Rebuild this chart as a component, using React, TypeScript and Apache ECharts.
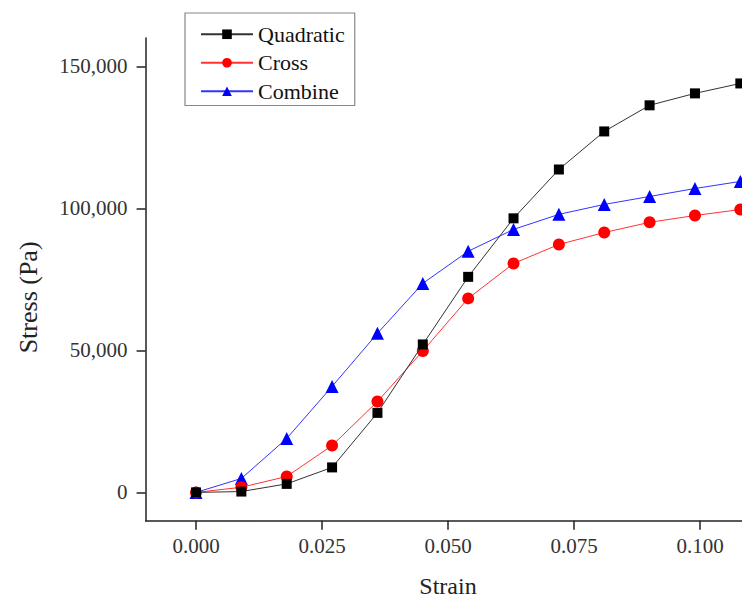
import React, { useEffect, useRef } from "react";
import * as echarts from "echarts";

const strain = [0, 0.009, 0.018, 0.027, 0.036, 0.045, 0.054, 0.063, 0.072, 0.081, 0.09, 0.099, 0.108];
const quadratic = [0, 300, 3000, 8800, 28000, 52100, 75900, 96500, 113700, 127100, 136300, 140500, 144000];
const cross = [0, 1800, 5600, 16500, 32000, 49800, 68300, 80600, 87300, 91500, 95100, 97500, 99600];
const combine = [0, 4900, 19000, 37300, 56000, 73600, 84900, 92600, 97900, 101400, 104200, 107000, 109500];
const xTicks = [0, 0.025, 0.05, 0.075, 0.1];
const yTicks = [0, 50000, 100000, 150000];
const seriesNames = ["Quadratic", "Cross", "Combine"];

const FONT = "'Liberation Serif', 'Times New Roman', serif";

export default function App() {
  const ref = useRef<HTMLDivElement>(null);
  useEffect(() => {
    if (!ref.current) return;
    const chart = echarts.init(ref.current, null, { renderer: "svg" });
    const pair = (vals: number[]) => strain.map((s, i) => [s, vals[i]]);
    const axisCommon = {
      axisLine: { show: true, onZero: false, lineStyle: { color: "#222", width: 1.5 } },
      axisTick: { show: true, inside: false, length: 9, lineStyle: { color: "#222", width: 1.5 } },
      splitLine: { show: false },
    };
    chart.setOption({
      animation: false,
      backgroundColor: "#fff",
      textStyle: { fontFamily: FONT },
      legend: {
        left: 185,
        top: 13,
        orient: "vertical",
        data: seriesNames,
        itemWidth: 52,
        itemHeight: 12,
        itemGap: 0,
        padding: [7, 10, 0, 15],
        borderColor: "#888",
        borderWidth: 1.2,
        textStyle: { fontFamily: FONT, fontSize: 22, color: "#111", lineHeight: 28.5 },
      },
      grid: { left: 145.6, top: 38, width: 604.8, height: 482.8, outerBoundsMode: "none", containLabel: false },
      xAxis: {
        type: "value",
        min: -0.01,
        max: 0.11,
        ...axisCommon,
        axisTick: { ...axisCommon.axisTick, customValues: xTicks },
        axisLabel: {
          customValues: xTicks,
          fontFamily: FONT,
          fontSize: 21,
          color: "#333",
          margin: 15,
          formatter: (v: number) => v.toFixed(3),
        },
        name: "Strain",
        nameLocation: "middle",
        nameGap: 53,
        nameTextStyle: { fontFamily: FONT, fontSize: 24, color: "#222", lineHeight: 24 },
      },
      yAxis: {
        type: "value",
        min: -10000,
        max: 160000,
        ...axisCommon,
        axisTick: { ...axisCommon.axisTick, customValues: yTicks },
        axisLabel: {
          customValues: yTicks,
          fontFamily: FONT,
          fontSize: 21,
          color: "#333",
          margin: 18,
          formatter: (v: number) => v.toLocaleString("en-US"),
        },
        name: "Stress (Pa)",
        nameLocation: "middle",
        nameGap: 104,
        nameTextStyle: { fontFamily: FONT, fontSize: 26, color: "#222", padding: [0, 36, 0, 0] },
      },
      series: [
        {
          name: "Quadratic",
          type: "line",
          data: pair(quadratic),
          symbol: "rect",
          symbolSize: 10,
          itemStyle: { color: "#000" },
          lineStyle: { color: "#333", width: 1 },
          z: 3,
        },
        {
          name: "Cross",
          type: "line",
          data: pair(cross),
          symbol: "circle",
          symbolSize: 12,
          itemStyle: { color: "#ff0000" },
          lineStyle: { color: "#ff3333", width: 1 },
          z: 2,
        },
        {
          name: "Combine",
          type: "line",
          data: pair(combine),
          symbol: "triangle",
          symbolSize: 13,
          itemStyle: { color: "#0000ff" },
          lineStyle: { color: "#3333ff", width: 1 },
          z: 1,
        },
      ],
    });
    return () => chart.dispose();
  }, []);
  return (
    <div style={{ position: "fixed", left: 0, top: 0, width: 742, height: 600, overflow: "hidden", background: "#fff" }}>
      <div ref={ref} style={{ width: 760, height: 600 }} />
    </div>
  );
}
